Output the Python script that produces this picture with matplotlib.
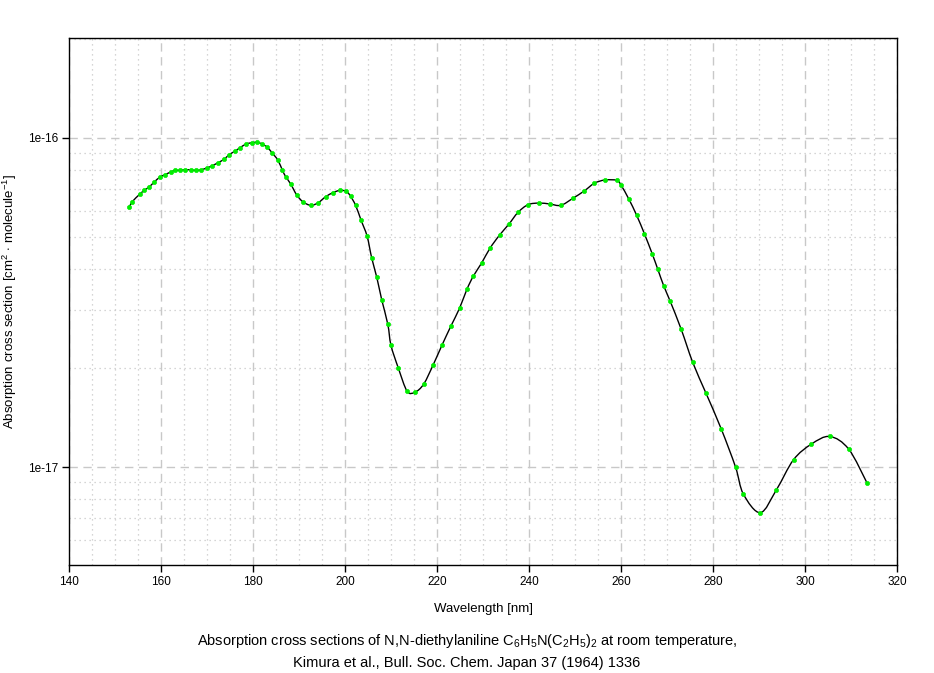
import matplotlib
matplotlib.use("Agg")
import matplotlib.pyplot as plt
import numpy as np
from matplotlib.path import Path
from matplotlib.patches import PathPatch
from matplotlib.ticker import MultipleLocator, LogLocator, FixedFormatter, NullFormatter, FixedLocator

plt.rcParams['font.family'] = 'Liberation Sans'
plt.rcParams['mathtext.fontset'] = 'custom'
plt.rcParams['mathtext.rm'] = 'Liberation Sans'
plt.rcParams['mathtext.it'] = 'Liberation Sans:italic'

# wavelength [nm] and cross section [1e-16 cm^2/molecule]
wavelength = [
    153.1, 153.7, 155.4, 156.4, 157.4, 158.5, 159.8, 160.9, 162.1, 163.1,
    164.2, 165.3, 166.5, 167.5, 168.6, 169.9, 171.0, 172.4, 173.7, 174.8,
    176.0, 177.2, 178.5, 179.8, 180.9, 182.0, 183.1, 184.2, 185.4, 186.4,
    187.1, 188.2, 189.5, 190.9, 192.6, 194.2, 195.8, 197.4, 198.9, 200.3,
    201.2, 202.3, 203.5, 204.8, 205.8, 206.9, 208.0, 209.3, 210.0, 211.6,
    213.5, 215.2, 217.1, 219.2, 221.1, 223.0, 224.9, 226.5, 227.9, 229.7,
    231.5, 233.6, 235.6, 237.6, 239.8, 242.2, 244.5, 246.9, 249.5, 252.0,
    254.2, 256.5, 259.1, 260.0, 261.7, 263.4, 265.1, 266.8, 268.0, 269.3,
    270.7, 273.1, 275.6, 278.5, 281.8, 284.9, 286.6, 290.3, 293.8, 297.5,
    301.4, 305.4, 309.5, 313.5,
]
cross_section = [
    0.615, 0.639, 0.675, 0.694, 0.709, 0.734, 0.761, 0.773, 0.788, 0.797,
    0.797, 0.801, 0.799, 0.797, 0.799, 0.810, 0.821, 0.841, 0.861, 0.889,
    0.910, 0.934, 0.958, 0.967, 0.969, 0.958, 0.936, 0.899, 0.856, 0.797,
    0.763, 0.724, 0.671, 0.639, 0.624, 0.636, 0.663, 0.682, 0.693, 0.688,
    0.665, 0.624, 0.562, 0.503, 0.432, 0.3775, 0.3215, 0.2718, 0.2343, 0.1999,
    0.1702, 0.169, 0.1788, 0.2051, 0.2351, 0.268, 0.304, 0.347, 0.3805, 0.417,
    0.462, 0.507, 0.5465, 0.594, 0.627, 0.634, 0.630, 0.624, 0.655, 0.690,
    0.728, 0.745, 0.743, 0.719, 0.652, 0.582, 0.511, 0.444, 0.399, 0.355,
    0.319, 0.262, 0.208, 0.1675, 0.1306, 0.1001, 0.0829, 0.0728, 0.0855, 0.1054,
    0.1176, 0.124, 0.1135, 0.0895,
]
scale = 1e-16

y_ticks = [1e-17, 1e-16]
y_tick_labels = ['1e-17', '1e-16']


def smooth_path(xs, ys):
    # Catmull-Rom as cubic bezier segments, control points worked out in log y
    xs = np.asarray(xs, float)
    ly = np.log10(ys)
    n = len(xs)
    verts = [(xs[0], ys[0])]
    codes = [Path.MOVETO]
    for i in range(n - 1):
        i0, i3 = max(i - 1, 0), min(i + 2, n - 1)
        c1x = xs[i] + (xs[i + 1] - xs[i0]) / 6
        c1y = ly[i] + (ly[i + 1] - ly[i0]) / 6
        c2x = xs[i + 1] - (xs[i3] - xs[i]) / 6
        c2y = ly[i + 1] - (ly[i3] - ly[i]) / 6
        verts += [(c1x, 10 ** c1y), (c2x, 10 ** c2y), (xs[i + 1], ys[i + 1])]
        codes += [Path.CURVE4] * 3
    return Path(verts, codes)


fig = plt.figure(figsize=(9.34, 6.73), dpi=100)
ax = fig.add_axes([0.0739, 0.1605, 0.8865, 0.783])

y = [v * scale for v in cross_section]
ax.set_yscale('log')
ax.set_xlim(140, 320)
ax.set_ylim(5.05e-18, 2.01e-16)

ax.add_patch(PathPatch(smooth_path(wavelength, y), fc='none', ec='black',
                       lw=1.0, zorder=3))
ax.plot(wavelength, y, ls='none', marker='o', ms=3.0, mfc='#00ee00',
        mec='#00ee00', mew=0.5, zorder=4)

ax.xaxis.set_major_locator(MultipleLocator(20))
ax.xaxis.set_minor_locator(MultipleLocator(5))
ax.yaxis.set_major_locator(FixedLocator(y_ticks))
ax.yaxis.set_major_formatter(FixedFormatter(y_tick_labels))
ax.yaxis.set_minor_locator(LogLocator(base=10, subs=range(2, 10)))
ax.yaxis.set_minor_formatter(NullFormatter())

ax.grid(which='major', color='#c8c8c8', ls=(0, (6, 4)), lw=1.0)
ax.grid(which='minor', color='#c8c8c8', ls=(0, (1, 3)), lw=0.9)
ax.set_axisbelow(True)

ax.tick_params(which='major', direction='out', length=5, width=1,
               labelsize=8.5, pad=3)
ax.tick_params(which='minor', length=0)
for s in ax.spines.values():
    s.set_linewidth(1.0)

ax.set_xlabel('Wavelength [nm]', fontsize=9.5, labelpad=11)
ax.set_ylabel(r'Absorption cross section [cm$^2$ $\cdot$ molecule$^{-1}$]',
              fontsize=9.5, labelpad=6)

fig.text(0.5, 0.048,
         r'Absorption cross sections of N,N-diethylaniline C$_6$H$_5$N(C$_2$H$_5$)$_2$ at room temperature,',
         ha='center', va='center', fontsize=10.5)
fig.text(0.5, 0.015, 'Kimura et al., Bull. Soc. Chem. Japan 37 (1964) 1336',
         ha='center', va='center', fontsize=10.5)

fig.savefig('out.png', dpi=100)
